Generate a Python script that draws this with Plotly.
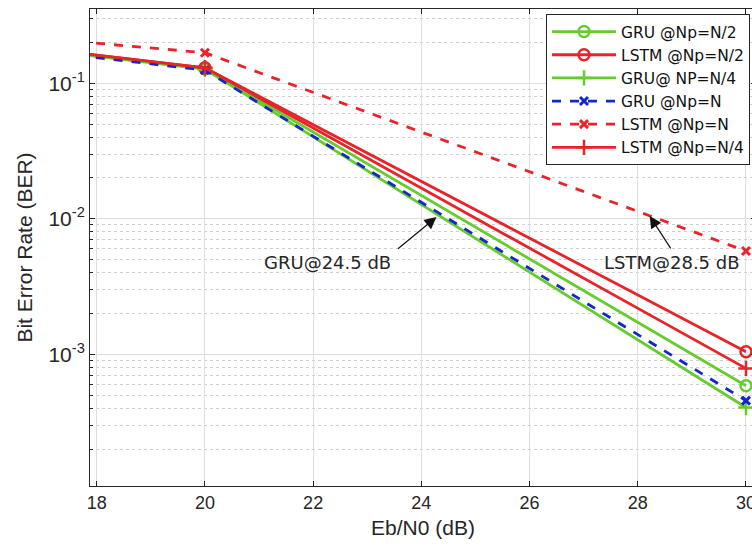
import plotly.graph_objects as go

# ---- data (first point lies just left of the visible x-range) ----
ebn0 = [16, 20, 30]
gru_np_half = [0.197, 0.128, 5.86e-4]
lstm_np_half = [0.200, 0.130, 1.045e-3]
gru_np_quarter = [0.197, 0.127, 4.05e-4]
gru_np_full = [0.191, 0.125, 4.55e-4]
lstm_np_full = [0.232, 0.168, 5.78e-3]
lstm_np_quarter = [0.200, 0.130, 7.87e-4]

x_ticks = [18, 20, 22, 24, 26, 28, 30]
y_major = [1e-3, 1e-2, 1e-1]
y_major_text = ["10<sup>-3</sup>", "10<sup>-2</sup>", "10<sup>-1</sup>"]
y_minor = [m * d for d in (1e-4, 1e-3, 1e-2, 1e-1) for m in range(2, 10)]

GREEN = "#66cc2e"
RED = "#e8232a"
BLUE = "#1428c8"
FONT = "Liberation Sans, Arial, sans-serif"
WIDE = "DejaVu Sans, sans-serif"

fig = go.Figure()

def add(name, y, color, dash, symbol, msize, mlw):
    fig.add_trace(go.Scatter(
        x=ebn0, y=y, name=name, mode="lines+markers",
        line=dict(color=color, width=2.8, dash=dash),
        marker=dict(symbol=symbol, size=msize, color=color,
                    line=dict(color=color, width=mlw)),
    ))

add("GRU @Np=N/2", gru_np_half, GREEN, "solid", "circle-open", 11, 2.5)
add("LSTM @Np=N/2", lstm_np_half, RED, "solid", "circle-open", 11, 2.5)
add("GRU@ NP=N/4", gru_np_quarter, GREEN, "solid", "cross-thin-open", 11, 2.5)
add("GRU @Np=N", gru_np_full, BLUE, "dash", "x-thin-open", 8, 3)
add("LSTM @Np=N", lstm_np_full, RED, "dash", "x-thin-open", 8, 3)
add("LSTM @Np=N/4", lstm_np_quarter, RED, "solid", "cross-thin-open", 11, 2.5)

# annotations (log axis -> y given as log10 value)
fig.add_annotation(x=24.28, y=-1.987, xref="x", yref="y", text="",
                   showarrow=True, arrowhead=2, arrowsize=2.0, arrowwidth=1.2,
                   arrowcolor="#111111", ax=-40, ay=33)
fig.add_annotation(x=22.27, y=-2.326, xref="x", yref="y", text="GRU@24.5 dB",
                   showarrow=False, font=dict(family=WIDE, size=18, color="#262626"))
fig.add_annotation(x=28.22, y=-1.979, xref="x", yref="y", text="",
                   showarrow=True, arrowhead=2, arrowsize=2.0, arrowwidth=1.2,
                   arrowcolor="#111111", ax=22, ay=34)
fig.add_annotation(x=28.63, y=-2.326, xref="x", yref="y", text="LSTM@28.5 dB",
                   showarrow=False, font=dict(family=WIDE, size=18, color="#262626"))

# figure is a few px wider than the window: the right frame falls just outside, as in the reference
fig.update_layout(
    width=756, height=547,
    margin=dict(l=90, r=0, t=9, b=61),
    paper_bgcolor="white", plot_bgcolor="white",
    font=dict(family=FONT, size=16, color="#262626"),
    showlegend=True,
    legend=dict(
        x=0.991, y=0.9895, xanchor="right", yanchor="top",
        bgcolor="white", bordercolor="#262626", borderwidth=1,
        font=dict(family=WIDE, size=15.5, color="#111111"),
        itemwidth=64, tracegroupgap=0,
    ),
    xaxis=dict(
        range=[17.876, 30.185], tickvals=x_ticks,
        ticks="inside", ticklen=5, tickcolor="#262626",
        showline=True, linecolor="#262626", linewidth=1, mirror="ticks",
        showgrid=True, gridcolor="#dedede", gridwidth=1, zeroline=False,
        ticklabeloverflow="allow",
        title=dict(text="Eb/N0 (dB)", standoff=8, font=dict(size=21)),
        tickfont=dict(size=18),
    ),
    yaxis=dict(
        type="log", range=[-3.972, -0.452],
        tickvals=y_major, ticktext=y_major_text,
        ticks="inside", ticklen=5, tickcolor="#262626",
        showline=True, linecolor="#262626", linewidth=1, mirror="ticks",
        showgrid=True, gridcolor="#dedede", gridwidth=1, zeroline=False,
        minor=dict(tickvals=y_minor, ticks="inside", ticklen=3, tickcolor="#262626",
                   showgrid=True, gridcolor="#cfcfcf", griddash="dot", gridwidth=1),
        title=dict(text="Bit Error Rate (BER)", standoff=10, font=dict(size=21)),
        tickfont=dict(size=21),
    ),
)

# remove the browser's default 8px body margin so the figure fills the window exactly
fig.write_html("out.html",
               config={"displayModeBar": False},
               post_script="document.body.style.margin='0';document.body.style.overflow='hidden';")
